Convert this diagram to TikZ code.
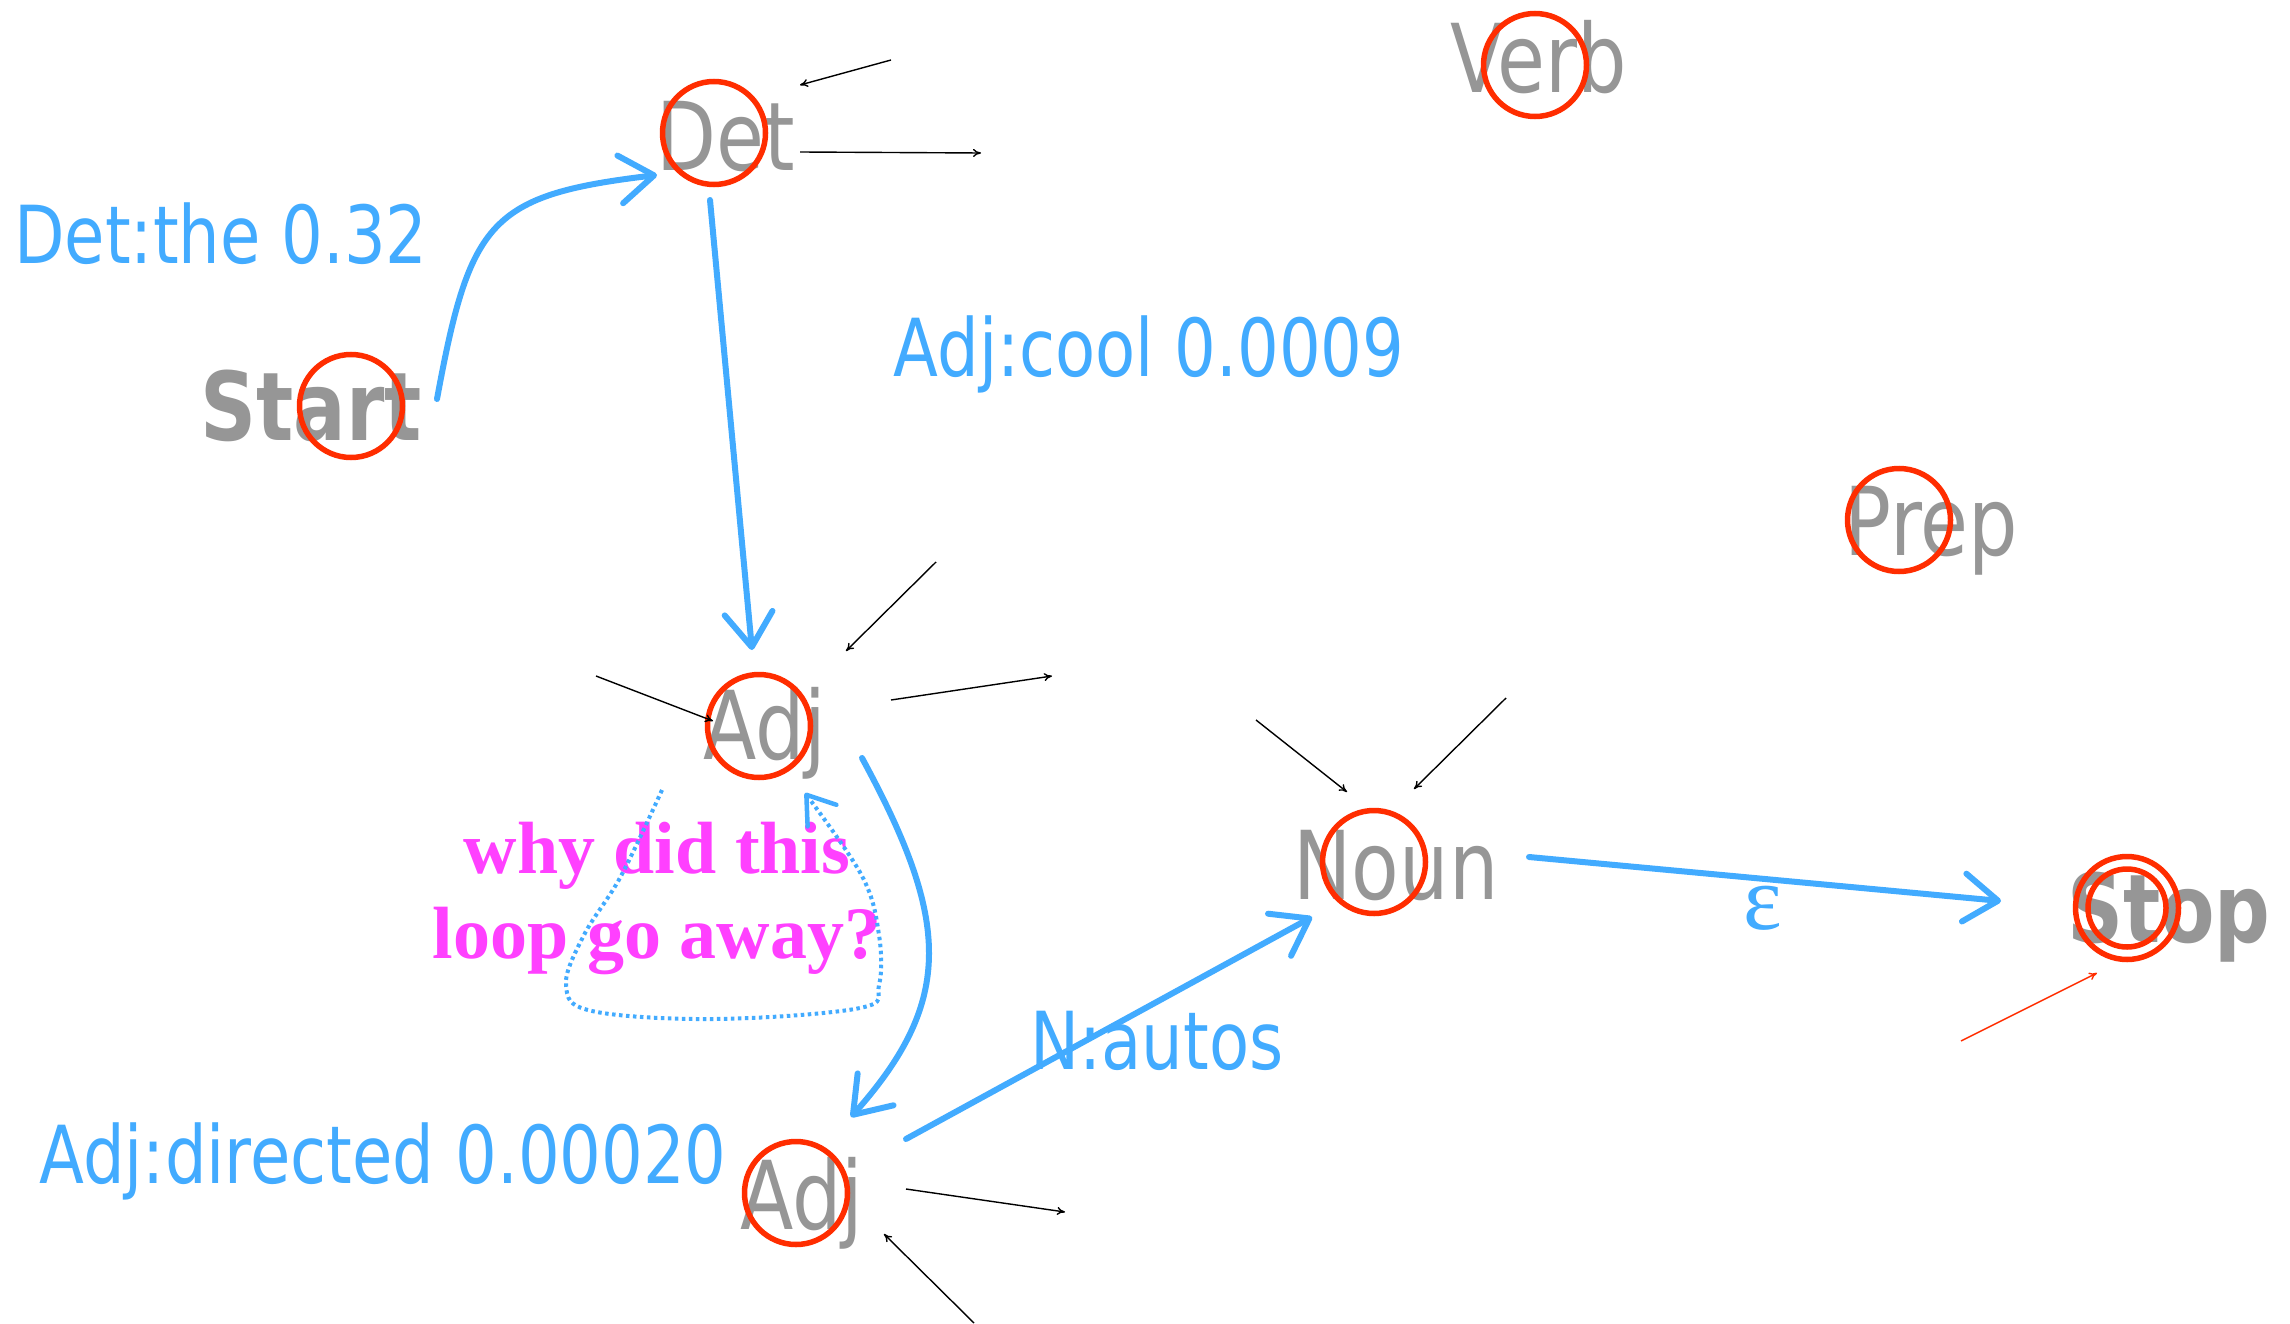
\documentclass[tikz,border=0pt]{standalone}
\usepackage{fontspec}
\setmainfont{DejaVu Sans}[FakeStretch=0.82]
\newfontfamily\timesb{Liberation Serif}
\usetikzlibrary{arrows.meta}
\definecolor{fblue}{RGB}{66,171,255}
\definecolor{fgray}{RGB}{150,150,150}
\definecolor{fred}{RGB}{255,45,0}
\definecolor{fmag}{RGB}{255,64,255}
\begin{document}
\begin{tikzpicture}[x=1pt,y=-1pt,
  st/.style={text=fgray, font=\fontsize{95}{95}\selectfont, inner sep=0pt, text height=69pt, text depth=0pt},
  stb/.style={st, font=\fontsize{95}{95}\selectfont\bfseries},
  ring/.style={circle, draw=fred, line width=5.5pt, minimum size=103pt, inner sep=0pt},
  ringin/.style={ring, minimum size=78pt},
  lab/.style={text=fblue, font=\fontsize{80}{80}\selectfont, inner sep=0pt, text height=58pt, text depth=0pt},
  edge/.style={draw=fblue, line width=6pt, line cap=round, -{Straight Barb[length=34pt,width=48pt,round]}},
  loopedge/.style={draw=fblue, line width=4pt, dash pattern=on 3.5pt off 3.5pt, -{Straight Barb[length=26pt,width=36pt,round,line width=4.5pt]}},
  thin/.style={draw=black, line width=1.4pt, -{To[length=8pt,width=8pt]}},
  thinred/.style={thin, draw=fred},
  note/.style={text=fmag, font=\timesb\bfseries\fontsize{74}{85}\selectfont, align=center, inner sep=0pt}
]
\useasboundingbox (0,0) rectangle (2290,1324);
\fill[white] (0,0) rectangle (2290,1324);

% state labels
\node[stb] (start) at (311,406) {Start};
\node[st]  (det)   at (726,136) {Det};
\node[st]  (verb)  at (1539,58) {Verb};
\node[st]  (prep)  at (1931,521) {Prep};
\node[st]  (adja)  at (765,725) {Adj};
\node[st]  (noun)  at (1396,865) {Noun};
\node[stb] (stop)  at (2169,908) {Stop};
\node[st]  (adjb)  at (802,1195) {Adj};

% red rings
\node[ring] (startc) at (351,406) {};
\node[ring] (detc)   at (714,133) {};
\node[ring] (verbc)  at (1535,65) {};
\node[ring] (prepc)  at (1899,520) {};
\node[ring] (adjac)  at (759,726) {};
\node[ring] (nounc)  at (1374,862) {};
\node[ring] (stopc)  at (2127,908) {};
\node[ringin] (stopci) at (2127,908) {};
\node[ring] (adjbc)  at (796,1193) {};

% arc labels
\node[lab] (l1) at (221,235) {Det:the 0.32};
\node[lab] (l2) at (1149,347) {Adj:cool 0.0009};
\node[lab] (l3) at (1157,1040) {N:autos};
\node[lab] (l4) at (383,1154) {Adj:directed 0.00020};
\node[text=fblue, font=\timesb\fontsize{92}{92}\selectfont, inner sep=0pt] (eps) at (1763,908) {ε};

% note
\node[note] (why) at (657,898) {why did this\\loop go away?};

% blue arcs
\coordinate (s1) at (437,399);  \coordinate (e1) at (657,175);
\draw[edge] (s1) .. controls (470,220) and (490,195) .. (e1);
\coordinate (s2) at (710,200);  \coordinate (e2) at (752,650);
\draw[edge] (s2) -- (e2);
\coordinate (s3) at (862,758);  \coordinate (e3) at (851,1117);
\draw[edge] (s3) .. controls (950,920) and (955,1000) .. (e3);
\coordinate (s4) at (906,1139); \coordinate (e4) at (1312,917);
\draw[edge] (s4) -- (e4);
\coordinate (s5) at (1529,857); \coordinate (e5) at (2001,901);
\draw[edge] (s5) -- (e5);

% dotted loop on Adj
\coordinate (ls) at (662,790); \coordinate (le) at (805,793);
\draw[loopedge] plot[smooth, tension=0.6] coordinates {(662,790) (621,876) (584,935) (566,985) (592,1011) (716,1019) (860,1008) (879,985) (879,935) (862,876) (805,793)};

% thin black arcs
\coordinate (a1) at (891,60);   \coordinate (b1) at (800,85);
\draw[thin] (a1) -- (b1);
\coordinate (a2) at (800,152);  \coordinate (b2) at (981,153);
\draw[thin] (a2) -- (b2);
\coordinate (a3) at (936,562);  \coordinate (b3) at (846,651);
\draw[thin] (a3) -- (b3);
\coordinate (a4) at (596,676);  \coordinate (b4) at (713,721);
\draw[thin] (a4) -- (b4);
\coordinate (a5) at (891,700);  \coordinate (b5) at (1052,676);
\draw[thin] (a5) -- (b5);
\coordinate (a6) at (1256,720); \coordinate (b6) at (1347,792);
\draw[thin] (a6) -- (b6);
\coordinate (a7) at (1506,698); \coordinate (b7) at (1414,789);
\draw[thin] (a7) -- (b7);
\coordinate (a8) at (906,1189); \coordinate (b8) at (1065,1212);
\draw[thin] (a8) -- (b8);
\coordinate (a9) at (974,1323); \coordinate (b9) at (884,1234);
\draw[thin] (a9) -- (b9);
\coordinate (a10) at (1961,1041); \coordinate (b10) at (2097,973);
\draw[thinred] (a10) -- (b10);
\end{tikzpicture}
\end{document}
